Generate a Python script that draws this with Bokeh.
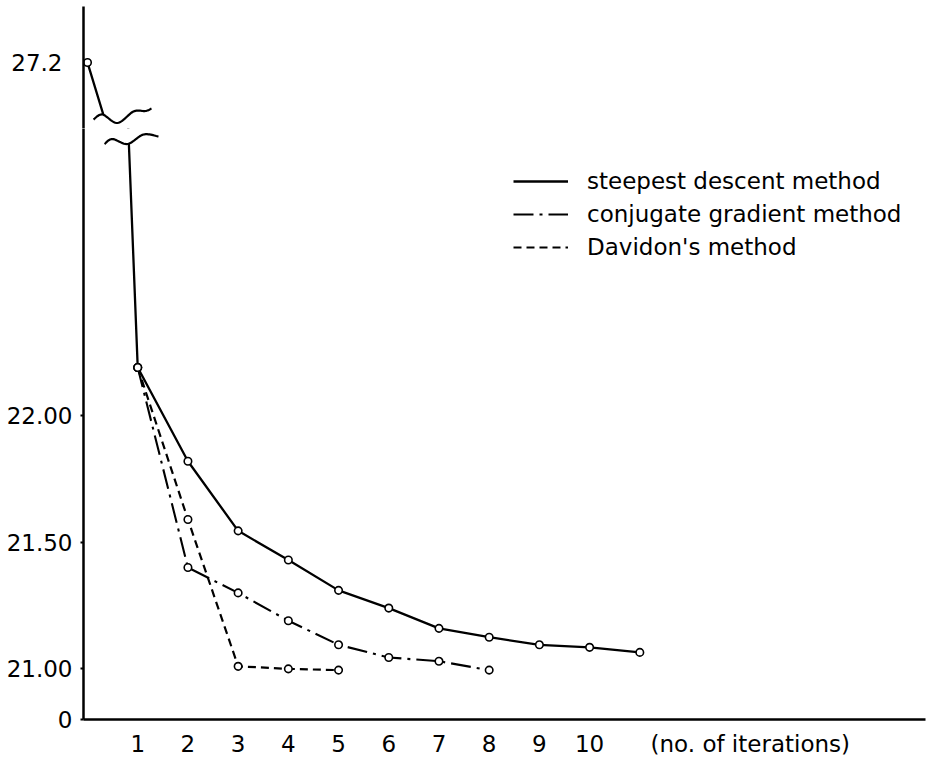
import numpy as np
from bokeh.plotting import figure
from bokeh.layouts import column
from bokeh.models import (Range1d, FixedTicker, CustomJSTickFormatter, Legend,
                          LegendItem)
from bokeh.embed import file_html
from bokeh.resources import INLINE

FONT = "DejaVu Sans"
FS = "23px"

# ---------------- data ----------------
sd_iter = [0, 1, 2, 3, 4, 5, 6, 7, 8, 9, 10, 11]
sd_value = [27.2, 22.19, 21.82, 21.545, 21.43, 21.31, 21.24, 21.16, 21.125, 21.095, 21.085, 21.065]
cg_iter = [1, 2, 3, 4, 5, 6, 7, 8]
cg_value = [22.19, 21.40, 21.30, 21.19, 21.095, 21.045, 21.03, 20.995]
dv_iter = [1, 2, 3, 4, 5]
dv_value = [22.19, 21.59, 21.01, 21.00, 20.995]
series_labels = ["steepest descent method", "conjugate gradient method", "Davidon's method"]
x_ticks = [1, 2, 3, 4, 5, 6, 7, 8, 9, 10]
x_title = "(no. of iterations)"
x_title_pos = 13.2                          # written in the tick-label row, right of "10"
y_ticks_upper = [27.2]
y_ticks_lower = [20.8, 21.0, 21.5, 22.0]   # 20.8 is the axis origin, labelled "0"

# ---------------- layout ----------------
X_START, X_END = -0.08, 16.69
UP_RANGE = (25.2, 28.9)
LOW_RANGE = (20.8, 23.134)
LEFT, FRAME_W = 83, 842
TOP, UP_H, LOW_H, BOTTOM = 6, 122, 591, 43

x_range = Range1d(X_START, X_END)

def make_fig(yr, fh, top, bottom):
    p = figure(x_range=x_range, y_range=Range1d(*yr), frame_width=FRAME_W, frame_height=fh,
               min_border_left=LEFT, min_border_right=3, min_border_top=top,
               min_border_bottom=bottom, toolbar_location=None, output_backend="svg",
               background_fill_color="white", border_fill_color="white")
    p.outline_line_color = None
    p.xgrid.visible = False
    p.ygrid.visible = False
    for ax in (p.xaxis[0], p.yaxis[0]):
        ax.axis_line_width = 2.5
        ax.axis_line_color = "black"
        ax.major_tick_line_color = "black"
        ax.major_tick_line_width = 2
        ax.minor_tick_line_color = None
        ax.major_label_text_font = FONT
        ax.major_label_text_font_size = FS
        ax.major_label_text_color = "black"
        ax.major_tick_in = 0
    return p

p_up = make_fig(UP_RANGE, UP_H, TOP, 0)
p_low = make_fig(LOW_RANGE, LOW_H, 0, BOTTOM)

p_up.xaxis.visible = False
p_up.yaxis.ticker = FixedTicker(ticks=y_ticks_upper)
p_up.yaxis.major_tick_out = 0
p_up.yaxis.major_label_standoff = 21

p_low.yaxis.ticker = FixedTicker(ticks=y_ticks_lower)
p_low.yaxis.formatter = CustomJSTickFormatter(code="return tick < 20.9 ? '0' : tick.toFixed(2);")
p_low.yaxis.major_tick_out = 3
p_low.yaxis.major_label_standoff = 8
p_low.xaxis.ticker = FixedTicker(ticks=x_ticks + [x_title_pos])
p_low.xaxis.formatter = CustomJSTickFormatter(
    args=dict(title=x_title),
    code="return tick > 11 ? title : String(Math.round(tick));")
p_low.xaxis.major_tick_out = 0
p_low.xaxis.major_label_standoff = 11

styles = [dict(line_width=2.3, line_dash="solid"),
          dict(line_width=2.1, line_dash="20 6 3 6"),
          dict(line_width=2.2, line_dash="8 5")]
data = [(sd_iter, sd_value), (cg_iter, cg_value), (dv_iter, dv_value)]

# upper panel: only the start of the steepest descent curve is visible
p_up.line(sd_iter, sd_value, line_color="black", **styles[0])
p_up.scatter(sd_iter, sd_value, marker="circle", size=7.5, fill_color="white",
             line_color="black", line_width=1.6)

line_renderers = []
for (xs, ys), st in zip(data, styles):
    r = p_low.line(xs, ys, line_color="black", **st)
    line_renderers.append(r)
for xs, ys in data:
    p_low.scatter(xs, ys, marker="circle", size=7.5, fill_color="white",
                  line_color="black", line_width=1.6)

# ---------------- axis-break marks (decoration) ----------------
def ux(px):
    return X_START + (px - LEFT) * (X_END - X_START) / FRAME_W

def uy_up(py):
    return UP_RANGE[1] - (py - TOP) * (UP_RANGE[1] - UP_RANGE[0]) / UP_H

def uy_low(py):
    top = TOP + UP_H
    return LOW_RANGE[1] - (py - top) * (LOW_RANGE[1] - LOW_RANGE[0]) / LOW_H

def spline(points, n=14):
    pts = np.array(points, float)
    P = np.vstack([pts[0], pts, pts[-1]])
    out = []
    for i in range(1, len(P) - 2):
        p0, p1, p2, p3 = P[i - 1], P[i], P[i + 1], P[i + 2]
        for t in np.linspace(0, 1, n, endpoint=False):
            out.append(0.5 * ((2 * p1) + (-p0 + p2) * t + (2 * p0 - 5 * p1 + 4 * p2 - p3) * t * t
                              + (-p0 + 3 * p1 - 3 * p2 + p3) * t ** 3))
    out.append(P[-2])
    return np.array(out)

up_wave = spline([(93, 119), (102, 114), (117, 122.5), (133, 111), (145, 110.5), (151, 108)])
low_wave = spline([(104, 143.5), (112, 138.5), (127, 143.5), (143, 134), (158, 136)])

uwx = [ux(v) for v in up_wave[:, 0]]
uwy = [uy_up(v) for v in up_wave[:, 1]]
p_up.patch(uwx + [ux(151), ux(93)], uwy + [uy_up(160), uy_up(160)],
           fill_color="white", line_color=None)
p_up.line(uwx, uwy, line_color="black", line_width=2.2)

lwx = [ux(v) for v in low_wave[:, 0]]
lwy = [uy_low(v) for v in low_wave[:, 1]]
p_low.patch(lwx + [ux(158), ux(104)], lwy + [uy_low(100), uy_low(100)],
            fill_color="white", line_color=None)
p_low.line(lwx, lwy, line_color="black", line_width=2.2)

# ---------------- legend ----------------
legend = Legend(items=[LegendItem(label=lab, renderers=[r])
                       for lab, r in zip(series_labels, line_renderers)],
                location=(430, 457), orientation="vertical",
                glyph_width=55, glyph_height=30, label_height=30, label_standoff=19,
                spacing=3, padding=0, margin=0, border_line_color=None,
                background_fill_alpha=0, label_text_font=FONT, label_text_font_size=FS,
                label_text_color="black")
p_low.add_layout(legend)

layout = column(p_up, p_low, spacing=0)
open("out.html", "w").write(file_html(layout, INLINE))
